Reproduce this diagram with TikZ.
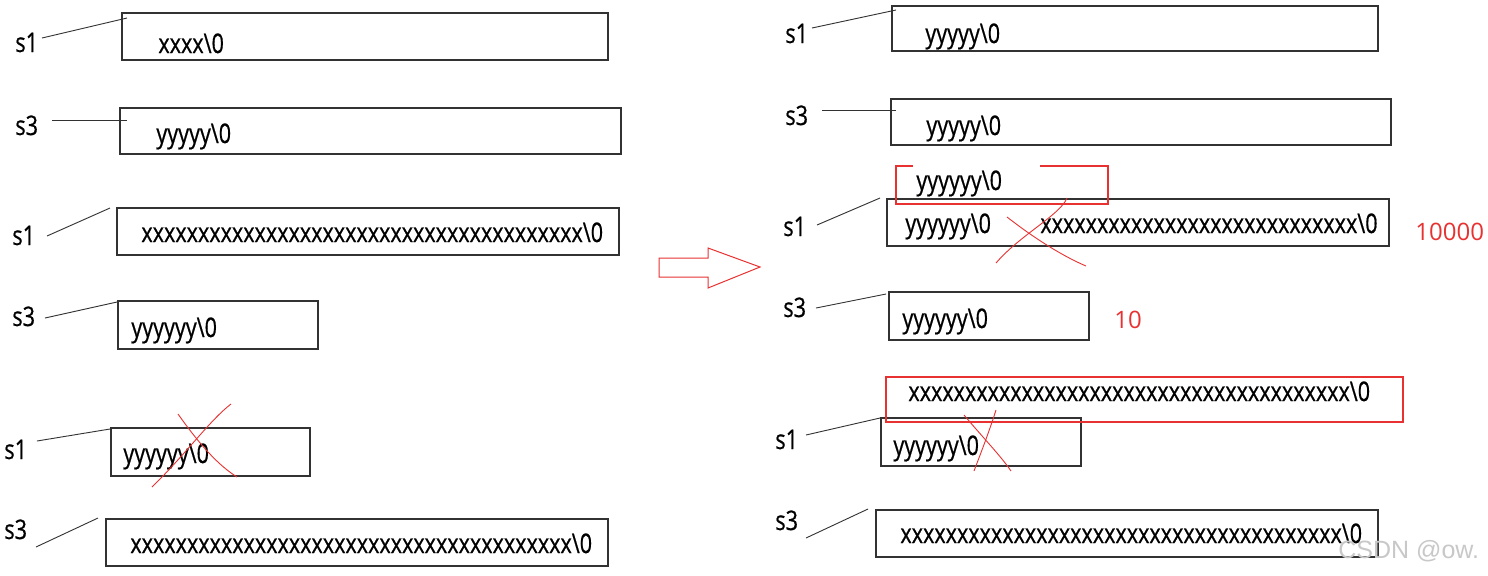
\documentclass[tikz,border=0pt]{standalone}
\usepackage{fontspec}
\setmainfont{Open Sans}[FakeStretch=0.8,FakeBold=0.6]
\newfontfamily\numfont{Open Sans}
\newfontfamily\wmfont{Liberation Sans}
\definecolor{boxline}{RGB}{50,50,50}
\definecolor{mred}{RGB}{232,50,50}
\definecolor{wm}{RGB}{200,200,200}
\newcommand{\xten}{xxxxxxxxxx}
\newcommand{\zt}{\textbackslash 0}
\begin{document}
\begin{tikzpicture}[x=0.5pt,y=-0.5pt,
  mem/.style={draw=boxline,line width=0.65pt},
  redmem/.style={draw=mred,line width=0.6pt},
  ptr/.style={draw=boxline,line width=0.45pt},
  cross/.style={draw=mred,line width=0.45pt},
  txt/.style={anchor=base west,inner sep=0pt,font=\fontsize{13.5pt}{16pt}\selectfont},
  lbl/.style={anchor=base west,inner sep=0pt,font=\fontsize{13.5pt}{16pt}\selectfont},
  num/.style={anchor=base west,inner sep=0pt,text=mred,font=\numfont\fontsize{12pt}{14pt}\selectfont}]
\useasboundingbox (0,0) rectangle (1488,575);
\fill[white] (0,0) rectangle (1488,575);

% ---------------- left column ----------------
\draw[mem] (122,13) rectangle (608,60);
\draw[mem] (120,108) rectangle (621,154);
\draw[mem] (117,208) rectangle (619,255);
\draw[mem] (118,301) rectangle (318,349);
\draw[mem] (111,428) rectangle (310,476);
\draw[mem] (106,519) rectangle (608,566);

\node[txt] (lt1) at (158,53) {xxxx\zt};
\node[txt] (lt2) at (156,143) {yyyyy\zt};
\node[txt] (lt3) at (141,242) {\xten\xten\xten xxxxxxxxx\zt};
\node[txt] (lt4) at (131,337) {yyyyyy\zt};
\node[txt] (lt5) at (123,463) {yyyyyy\zt};
\node[txt] (lt6) at (130,553) {\xten\xten\xten xxxxxxxxx\zt};

\node[lbl] (ls1) at (15,52) {s1};
\node[lbl] (ls2) at (15,135) {s3};
\node[lbl] (ls3) at (12,245) {s1};
\node[lbl] (ls4) at (12,326) {s3};
\node[lbl] (ls5) at (4,459) {s1};
\node[lbl] (ls6) at (4,539) {s3};

\coordinate (la1) at (42,38);  \coordinate (lb1) at (127,18);
\coordinate (la2) at (52,120); \coordinate (lb2) at (127,120);
\coordinate (la3) at (47,236); \coordinate (lb3) at (110,208);
\coordinate (la4) at (45,318); \coordinate (lb4) at (117,302);
\coordinate (la5) at (37,441); \coordinate (lb5) at (110,429);
\coordinate (la6) at (36,547); \coordinate (lb6) at (98,518);
\foreach \i in {1,...,6} {\draw[ptr] (la\i) -- (lb\i);}

% red cross on left s1 box
\draw[cross] (152,487) .. controls (185,455) and (210,420) .. (231,404);
\draw[cross] (178,414) .. controls (200,445) and (218,465) .. (237,477);

% ---------------- arrow ----------------
\draw[mred,line width=0.5pt] (659,258) -- (708,258) -- (708,248) -- (760,267) -- (708,288) -- (708,277) -- (659,277) -- cycle;

% ---------------- right column ----------------
\draw[mem] (892,6) rectangle (1378,51);
\draw[mem] (891,99) rectangle (1391,145);
\draw[mem] (887,199) rectangle (1389,246);
\draw[mem] (889,292) rectangle (1089,340);
\draw[mem] (881,418) rectangle (1081,466);
\draw[mem] (876,510) rectangle (1378,557);

\draw[redmem] (913,166) -- (896,166) -- (896,204) -- (1108,204) -- (1108,166) -- (1040,166);
\draw[redmem] (886,377) rectangle (1403,422);

\node[txt] (rt1) at (925,43) {yyyyy\zt};
\node[txt] (rt2) at (926,135) {yyyyy\zt};
\node[txt] (rr1) at (916,190) {yyyyyy\zt};
\node[txt] (rt3) at (905,233) {yyyyyy\zt};
\node[txt] (rt3b) at (1040,233) {\xten\xten xxxxxxxx\zt};
\node[txt] (rt4) at (902,328) {yyyyyy\zt};
\node[txt] (rr2) at (908,401) {\xten\xten\xten xxxxxxxxx\zt};
\node[txt] (rt5) at (893,455) {yyyyyy\zt};
\node[txt] (rt6) at (900,543) {\xten\xten\xten xxxxxxxxx\zt};

\node[num] (n1) at (1415,240) {10000};
\node[num] (n2) at (1114,328) {10};

\node[lbl] (rs1) at (785,43) {s1};
\node[lbl] (rs2) at (785,125) {s3};
\node[lbl] (rs3) at (783,236) {s1};
\node[lbl] (rs4) at (783,317) {s3};
\node[lbl] (rs5) at (775,449) {s1};
\node[lbl] (rs6) at (775,530) {s3};

\coordinate (ra1) at (812,28);  \coordinate (rb1) at (896,10);
\coordinate (ra2) at (822,110); \coordinate (rb2) at (896,110);
\coordinate (ra3) at (817,225); \coordinate (rb3) at (880,198);
\coordinate (ra4) at (816,308); \coordinate (rb4) at (886,294);
\coordinate (ra5) at (806,435); \coordinate (rb5) at (880,418);
\coordinate (ra6) at (806,538); \coordinate (rb6) at (868,509);
\foreach \i in {1,...,6} {\draw[ptr] (ra\i) -- (rb\i);}

% red crosses on right
\draw[cross] (996,263) .. controls (1020,235) and (1060,215) .. (1067,198);
\draw[cross] (1007,217) .. controls (1030,235) and (1060,255) .. (1086,266);
\draw[cross] (964,415) .. controls (985,440) and (1000,455) .. (1011,471);
\draw[cross] (996,410) .. controls (988,435) and (980,455) .. (974,471);

% watermark
\node[anchor=base west,inner sep=0pt,text=wm,font=\wmfont\fontsize{12.5pt}{15pt}\selectfont] (wmk) at (1338,558) {CSDN @ow.};
\end{tikzpicture}
\end{document}
